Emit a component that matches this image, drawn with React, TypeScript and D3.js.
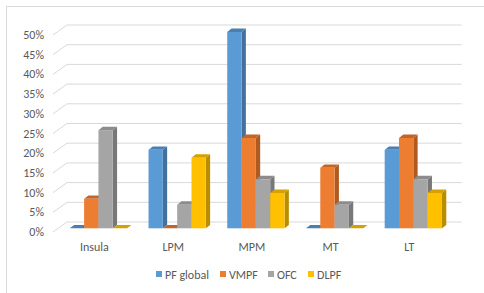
import React from 'react'
import * as d3 from 'd3'

const categories = ['Insula', 'LPM', 'MPM', 'MT', 'LT']
const seriesNames = ['PF global', 'VMPF', 'OFC', 'DLPF']
const pfGlobal = [0, 0.2, 0.5, 0, 0.2]
const vmpf = [0.075, 0, 0.23, 0.154, 0.23]
const ofc = [0.25, 0.06, 0.125, 0.06, 0.125]
const dlpf = [0, 0.18, 0.09, 0, 0.09]
const yTicks = [0, 0.05, 0.1, 0.15, 0.2, 0.25, 0.3, 0.35, 0.4, 0.45, 0.5]

const front = ['#5B9BD5', '#ED7D31', '#A5A5A5', '#FFC000']
const side = ['#41719C', '#AE5A21', '#787878', '#BA8C00']
const top = ['#4A7FAF', '#C2652A', '#8C8C8C', '#D4A100']

const W = 484
const H = 293
const DX = 4.3
const DY = -3.4
const font = 'Calibri, Carlito, "Liberation Sans", Arial, sans-serif'

export default function App() {
  const series = [pfGlobal, vmpf, ofc, dlpf]

  const x0 = d3.scaleBand<string>().domain(categories).range([59.1, 452.7])
  const x1 = d3.scaleBand<string>().domain(seriesNames).range([10.7, 68])
  const y = d3.scaleLinear().domain([0, 0.5]).range([228.3, 32])
  const yBack = d3.scaleLinear().domain([0, 0.5]).range([222, 25])
  const fmt = d3.format('.0%')

  const bars: JSX.Element[] = []
  categories.forEach((c, ci) => {
    series.forEach((vals, si) => {
      const v = vals[ci]
      const x = (x0(c) as number) + (x1(seriesNames[si]) as number)
      const w = x1.bandwidth()
      const yt = y(v)
      const yb = y(0)
      bars.push(
        <g key={c + si}>
          <path
            d={`M${x + w},${yt}L${x + w + DX},${yt + DY}L${x + w + DX},${yb + DY}L${x + w},${yb}Z`}
            fill={side[si]}
          />
          <path
            d={`M${x},${yt}L${x + DX},${yt + DY}L${x + w + DX},${yt + DY}L${x + w},${yt}Z`}
            fill={top[si]}
          />
          {v > 0 && <rect x={x} y={yt} width={w} height={yb - yt} fill={front[si]} />}
        </g>
      )
    })
  })

  const legendX = [156, 220, 268, 308]

  return (
    <svg width={W} height={H} style={{ position: 'absolute', left: 0, top: 0 }}>
      <rect x={0} y={0} width={W} height={H} fill="#fff" />
      <rect x={6.5} y={6.5} width={W + 10} height={H + 10} fill="none" stroke="#D9D9D9" />
      {yTicks.map((t) => (
        <g key={t}>
          <path
            d={`M53,${yBack(t) + 10}L67,${yBack(t)}L461.7,${yBack(t)}`}
            fill="none"
            stroke="#D9D9D9"
            strokeWidth={1}
          />
          <text
            x={44}
            y={yBack(t) + 14}
            textAnchor="end"
            fontFamily={font}
            fontSize={12}
            fill="#595959"
          >
            {fmt(t)}
          </text>
        </g>
      ))}
      {bars}
      {categories.map((c) => (
        <text
          key={c}
          x={(x0(c) as number) + x0.bandwidth() / 2 - 4}
          y={251}
          textAnchor="middle"
          fontFamily={font}
          fontSize={12}
          fill="#595959"
        >
          {c}
        </text>
      ))}
      {seriesNames.map((s, i) => (
        <g key={s}>
          <rect x={legendX[i]} y={271} width={6} height={6} fill={front[i]} />
          <text x={legendX[i] + 9} y={279} fontFamily={font} fontSize={12} fill="#595959">
            {s}
          </text>
        </g>
      ))}
    </svg>
  )
}
